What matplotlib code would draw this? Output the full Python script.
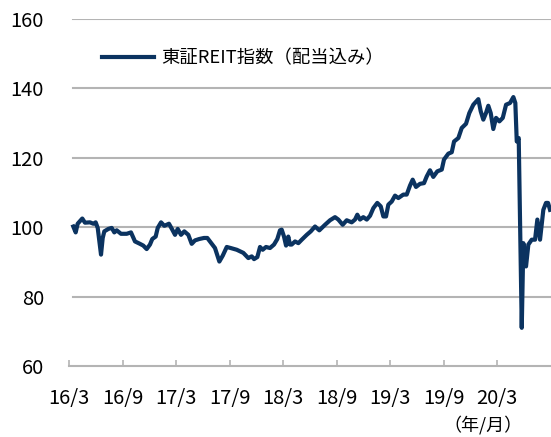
import matplotlib
matplotlib.use("Agg")
import matplotlib.pyplot as plt

plt.rcParams['font.family'] = ['Noto Sans CJK JP', 'DejaVu Sans']

# months elapsed since 2016/3, index value
months = [0.48, 0.75, 0.97, 1.49, 1.79, 2.35, 2.73, 2.99, 3.22, 3.59, 3.78, 3.96,
          4.41, 4.79, 5.08, 5.35, 5.83, 6.47, 6.95, 7.40, 7.96, 8.33, 8.71, 9.08,
          9.34, 9.72, 9.95, 10.32, 10.69, 11.21, 11.58, 11.89, 12.19, 12.56, 12.93,
          13.38, 13.76, 14.13, 14.61, 15.14, 15.51, 15.89, 16.37, 16.86, 17.24,
          17.69, 18.13, 18.81, 19.55, 20.11, 20.49, 20.75, 21.12, 21.42, 21.72,
          22.09, 22.54, 22.99, 23.36, 23.66, 23.85, 24.11, 24.34, 24.59, 24.78,
          24.97, 25.35, 25.72, 26.10, 26.66, 27.11, 27.59, 28.07, 28.71, 29.27,
          29.83, 30.20, 30.69, 31.14, 31.70, 32.07, 32.33, 32.63, 33.00, 33.39,
          33.76, 34.13, 34.57, 34.96, 35.25, 35.55, 35.81, 36.19, 36.56, 36.93,
          37.49, 37.87, 38.24, 38.54, 38.91, 39.36, 39.81, 40.11, 40.48, 40.85,
          41.30, 41.80, 42.05, 42.54, 42.92, 43.18, 43.66, 44.04, 44.52, 44.89,
          45.34, 45.90, 46.17, 46.46, 46.76, 47.02, 47.29, 47.58, 47.89, 48.26,
          48.64, 49.01, 49.46, 49.83, 50.05, 50.21, 50.43, 50.77, 50.95, 51.25,
          51.51, 51.89, 52.26, 52.52, 52.82, 53.19, 53.49, 53.72, 53.94]
reit = [100.2, 98.5, 101.0, 102.5, 101.3, 101.4, 101.0, 101.4, 99.8, 92.1, 96.9, 98.8,
        99.5, 99.8, 98.5, 99.1, 98.1, 98.1, 98.5, 95.9, 95.2, 94.7, 93.7, 95.0,
        96.6, 97.3, 99.8, 101.4, 100.4, 101.0, 99.3, 97.8, 99.5, 97.8, 98.8,
        97.8, 95.2, 96.2, 96.6, 96.9, 96.9, 95.6, 94.0, 90.1, 91.8,
        94.3, 94.0, 93.5, 92.6, 91.1, 91.6, 90.8, 91.4, 94.3, 93.5,
        94.3, 94.0, 95.0, 96.6, 99.1, 99.3, 97.3, 94.7, 97.3, 95.0,
        95.0, 95.9, 95.4, 96.4, 97.8, 98.8, 100.2, 99.1, 100.7, 102.0,
        102.9, 102.2, 100.7, 102.0, 101.4, 102.2, 103.6, 102.2, 102.9, 102.2,
        103.3, 105.5, 107.0, 106.0, 103.1, 103.1, 106.5, 107.4, 109.1, 108.4,
        109.4, 109.4, 112.0, 113.7, 111.6, 112.5, 112.7, 114.6, 116.4, 114.5,
        116.1, 116.6, 119.5, 121.2, 121.6, 124.7, 125.7, 128.6, 129.8, 132.9,
        135.3, 136.9, 133.4, 131.0, 132.9, 135.0, 132.9, 128.3, 131.5, 130.5,
        131.5, 135.3, 135.8, 137.5, 135.8, 124.7, 125.7, 71.0, 95.4, 88.7,
        95.0, 96.4, 96.4, 102.2, 96.4, 105.0, 107.0, 107.0, 105.0]

tick_pos = [0, 6, 12, 18, 24, 30, 36, 42, 48]
tick_labels = ['16/3', '16/9', '17/3', '17/9', '18/3', '18/9', '19/3', '19/9', '20/3']

fig = plt.figure(figsize=(5.51, 4.37), dpi=100)
ax = fig.add_axes([69 / 551, 1 - 366 / 437, 1 - 69 / 551, (366 - 19) / 437])

ax.plot(months, reit, color='#0b3360', lw=3.0, label='東証REIT指数（配当込み）',
        solid_joinstyle='round', zorder=3)

ax.set_xlim(0, 54.05)
ax.set_ylim(60, 160)
ax.set_yticks([60, 80, 100, 120, 140, 160])
ax.set_xticks(tick_pos)
ax.set_xticklabels(tick_labels)

for v in [80, 100, 120, 140, 160]:
    ax.axhline(v, xmin=4 / 482, color='#b4b4b4', lw=1.5, zorder=1)

for s in ['top', 'right', 'left']:
    ax.spines[s].set_visible(False)
ax.spines['bottom'].set_color('#b4b4b4')
ax.spines['bottom'].set_linewidth(1.5)

ax.tick_params(axis='x', direction='in', length=4, width=1.2, color='#b4b4b4',
               pad=16, labelsize=14.5, labelcolor='black')
ax.tick_params(axis='y', length=0, pad=18, labelsize=14.5, labelcolor='black')

fig.legend(loc='center left', bbox_to_anchor=(102 / 551, 1 - 58 / 437), frameon=False,
           fontsize=13.2, handlelength=2.85, handletextpad=0.4, borderpad=0,
           borderaxespad=0)

fig.text(483 / 551, 1 - 425 / 437, '（年/月）', ha='center', va='center', fontsize=13)

fig.savefig('out.png', dpi=100)
